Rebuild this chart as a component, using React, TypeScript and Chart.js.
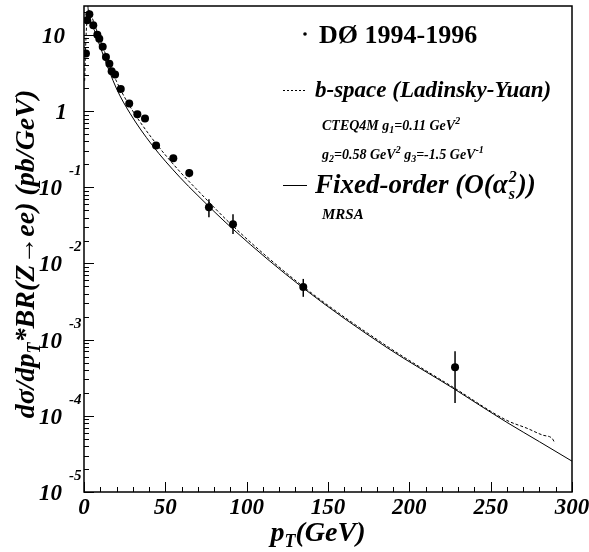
import React, { useEffect, useRef } from "react";
import { Chart, registerables } from "chart.js";
Chart.register(...registerables);

const W = 589;
const H = 552;
const FONT = '"Liberation Serif", "Times New Roman", "DejaVu Serif", serif';

// DØ 1994-1996 data: pT (GeV), value (pb/GeV), error band low/high
const dataPt = [1.2, 2.0, 3.3, 5.7, 8.2, 9.4, 11.5, 13.5, 15.6, 17.0, 19.1, 22.6, 27.8, 32.8, 37.5, 44.3, 54.9, 64.7, 76.8, 91.6, 134.8, 228.1];
const dataVal = [5.7, 15.6, 18.7, 13.4, 10.1, 8.95, 7.0, 5.15, 4.2, 3.35, 3.03, 1.95, 1.26, 0.91, 0.80, 0.354, 0.241, 0.154, 0.0548, 0.0328, 0.00493, 0.000435];
const dataErrLo = [5.3, 14.8, 17.8, 12.8, 9.6, 8.5, 6.6, 4.85, 3.95, 3.15, 2.85, 1.83, 1.18, 0.85, 0.74, 0.325, 0.218, 0.136, 0.0406, 0.0243, 0.00365, 0.000147];
const dataErrHi = [6.1, 16.4, 19.6, 14.0, 10.6, 9.4, 7.4, 5.45, 4.45, 3.55, 3.21, 2.07, 1.34, 0.97, 0.86, 0.385, 0.266, 0.174, 0.0697, 0.0444, 0.00627, 0.000703];

// Fixed-order O(alpha_s^2), MRSA
const fixedPt = [2.3, 2.5, 6.8, 11.1, 20.1, 28.3, 41.8, 59.0, 69.5, 91.6, 134.6, 186.3, 228.1, 243.4, 260.0, 280.0, 300.0];
const fixedVal = [26, 22.4, 10.9, 6.0, 1.95, 0.935, 0.36, 0.135, 0.0798, 0.0282, 0.00479, 0.000785, 0.000222, 0.000137, 0.000082, 0.0000457, 0.0000254];

// b-space (Ladinsky-Yuan), CTEQ4M
const bspacePt = [0.4, 1.2, 2.0, 3.0, 4.0, 5.0, 6.8, 11.1, 20.1, 28.3, 41.8, 59.0, 69.5, 91.6, 134.6, 186.3, 228.1, 260.0, 272.3, 282.2, 287.7, 289.5];
const bspaceVal = [2.5, 9.0, 17.0, 21.0, 20.0, 17.0, 13.1, 7.4, 2.43, 1.15, 0.44, 0.16, 0.093, 0.0309, 0.0050, 0.00082, 0.000229, 0.000087, 0.0000687, 0.0000556, 0.0000508, 0.0000437];

const xMajorTicks = [0, 50, 100, 150, 200, 250, 300];
const xTickLabels = ["0", "50", "100", "150", "200", "250", "300"];
const yDecades = [-5, -4, -3, -2, -1, 0, 1];

const X_MIN = 0;
const X_MAX = 300;
const Y_MIN = 1e-5;
const Y_MAX = 24;

type Seg = { t: string; size: number; dy?: number; style?: string };

function segWidth(ctx: CanvasRenderingContext2D, segs: Seg[]) {
  let w = 0;
  for (const s of segs) {
    ctx.font = `${s.style ?? "italic bold"} ${s.size}px ${FONT}`;
    w += ctx.measureText(s.t).width;
  }
  return w;
}

function drawSegs(ctx: CanvasRenderingContext2D, x: number, y: number, segs: Seg[]) {
  let cx = x;
  for (const s of segs) {
    ctx.font = `${s.style ?? "italic bold"} ${s.size}px ${FONT}`;
    ctx.fillText(s.t, cx, y + (s.dy ?? 0));
    cx += ctx.measureText(s.t).width;
  }
  return cx - x;
}

export default function App() {
  const ref = useRef<HTMLCanvasElement>(null);

  useEffect(() => {
    const canvas = ref.current!;
    const rootPlugin = {
      id: "rootStyle",
      beforeDatasetsDraw(chart: any) {
        const ctx: CanvasRenderingContext2D = chart.ctx;
        const xs = chart.scales.x;
        const ys = chart.scales.y;
        ctx.save();
        ctx.strokeStyle = "#000";
        ctx.lineWidth = 1.5;
        for (let i = 0; i < dataPt.length; i++) {
          const px = xs.getPixelForValue(dataPt[i]);
          ctx.beginPath();
          ctx.moveTo(px, ys.getPixelForValue(dataErrLo[i]));
          ctx.lineTo(px, ys.getPixelForValue(dataErrHi[i]));
          ctx.stroke();
        }
        ctx.restore();
      },
      afterDraw(chart: any) {
        const ctx: CanvasRenderingContext2D = chart.ctx;
        const xs = chart.scales.x;
        const ys = chart.scales.y;
        const a = chart.chartArea;
        ctx.save();
        ctx.strokeStyle = "#000";
        ctx.fillStyle = "#000";
        // frame
        ctx.lineWidth = 1.5;
        ctx.strokeRect(a.left, a.top, a.right - a.left, a.bottom - a.top);
        // x ticks
        ctx.lineWidth = 1;
        for (let v = X_MIN; v <= X_MAX; v += 10) {
          const px = Math.round(xs.getPixelForValue(v)) + 0.5;
          const len = v % 50 === 0 ? 10 : 5;
          ctx.beginPath();
          ctx.moveTo(px, a.bottom);
          ctx.lineTo(px, a.bottom - len);
          ctx.stroke();
        }
        // y ticks
        for (const d of yDecades) {
          for (let m = 1; m <= 9; m++) {
            const v = m * Math.pow(10, d);
            if (v < Y_MIN * 0.999 || v > Y_MAX) continue;
            const py = Math.round(ys.getPixelForValue(v)) + 0.5;
            const len = m === 1 ? 10 : 5;
            ctx.beginPath();
            ctx.moveTo(a.left, py);
            ctx.lineTo(a.left + len, py);
            ctx.stroke();
          }
        }
        // x tick labels
        ctx.textBaseline = "alphabetic";
        ctx.textAlign = "center";
        ctx.font = `italic bold 23px ${FONT}`;
        xMajorTicks.forEach((v, i) => {
          ctx.fillText(xTickLabels[i], xs.getPixelForValue(v), a.bottom + 22);
        });
        // y tick labels
        for (const d of yDecades) {
          const py = ys.getPixelForValue(Math.pow(10, d));
          ctx.font = `italic bold 23px ${FONT}`;
          ctx.textAlign = "right";
          if (d === 1) {
            ctx.fillText("10", a.left - 19, py + 8);
          } else if (d === 0) {
            ctx.fillText("1", a.left - 17, py + 8);
          } else {
            ctx.fillText("10", a.left - 22, py + 8);
            ctx.textAlign = "left";
            ctx.font = `italic bold 15px ${FONT}`;
            ctx.fillText(String(d), a.left - 15, py - 12);
          }
        }
        ctx.textAlign = "left";
        // x axis title
        const xt: Seg[] = [
          { t: "p", size: 28 },
          { t: "T", size: 18, dy: 6 },
          { t: "(GeV)", size: 28 },
        ];
        const xtw = segWidth(ctx, xt);
        drawSegs(ctx, 318 - xtw / 2, 541, xt);
        // y axis title
        const yt: Seg[] = [
          { t: "d\u03c3/dp", size: 28 },
          { t: "T", size: 18, dy: 6 },
          { t: "*BR(Z\u2192ee) (pb/GeV)", size: 28 },
        ];
        const ytw = segWidth(ctx, yt);
        ctx.save();
        ctx.translate(34, 254);
        ctx.rotate(-Math.PI / 2);
        drawSegs(ctx, -ytw / 2, 0, yt);
        ctx.restore();

        // legend
        ctx.beginPath();
        ctx.arc(305, 34, 1.8, 0, Math.PI * 2);
        ctx.fill();
        drawSegs(ctx, 319, 43, [{ t: "D\u00d8 1994-1996", size: 26, style: "bold" }]);

        ctx.lineWidth = 1;
        ctx.setLineDash([2, 2]);
        ctx.beginPath();
        ctx.moveTo(283, 90.5);
        ctx.lineTo(307, 90.5);
        ctx.stroke();
        ctx.setLineDash([]);
        drawSegs(ctx, 315, 97, [{ t: "b-space (Ladinsky-Yuan)", size: 23 }]);
        drawSegs(ctx, 322, 130, [
          { t: "CTEQ4M g", size: 14 },
          { t: "1", size: 10, dy: 3 },
          { t: "=0.11 GeV", size: 14 },
          { t: "2", size: 10, dy: -6 },
        ]);
        drawSegs(ctx, 322, 159, [
          { t: "g", size: 14 },
          { t: "2", size: 10, dy: 3 },
          { t: "=0.58 GeV", size: 14 },
          { t: "2", size: 10, dy: -6 },
          { t: " g", size: 14 },
          { t: "3", size: 10, dy: 3 },
          { t: "=-1.5 GeV", size: 14 },
          { t: "-1", size: 10, dy: -6 },
        ]);

        ctx.beginPath();
        ctx.moveTo(283, 185.5);
        ctx.lineTo(307, 185.5);
        ctx.stroke();
        const w1 = drawSegs(ctx, 315, 193, [{ t: "Fixed-order (O(\u03b1", size: 27 }]);
        ctx.font = `italic bold 16px ${FONT}`;
        ctx.fillText("2", 315 + w1 + 1, 182);
        ctx.fillText("s", 315 + w1 + 1, 199);
        drawSegs(ctx, 315 + w1 + 10, 193, [{ t: "))", size: 27 }]);
        drawSegs(ctx, 322, 219, [{ t: "MRSA", size: 15 }]);
        ctx.restore();
      },
    };

    const chart = new Chart(canvas, {
      type: "scatter",
      data: {
        datasets: [
          {
            label: "b-space",
            data: bspacePt.map((x, i) => ({ x, y: bspaceVal[i] })),
            showLine: true,
            borderColor: "#000",
            borderWidth: 1,
            borderDash: [3, 2],
            pointRadius: 0,
            cubicInterpolationMode: "monotone",
          },
          {
            label: "Fixed-order",
            data: fixedPt.map((x, i) => ({ x, y: fixedVal[i] })),
            showLine: true,
            borderColor: "#000",
            borderWidth: 1,
            pointRadius: 0,
            cubicInterpolationMode: "monotone",
          },
          {
            label: "DØ 1994-1996",
            data: dataPt.map((x, i) => ({ x, y: dataVal[i] })),
            showLine: false,
            pointRadius: 4,
            pointBackgroundColor: "#000",
            pointBorderColor: "#000",
            pointBorderWidth: 0,
          },
        ],
      },
      options: {
        responsive: false,
        animation: false,
        devicePixelRatio: 1,
        events: [],
        layout: { padding: { left: 84, right: 17, top: 6, bottom: 60 } },
        plugins: { legend: { display: false }, tooltip: { enabled: false } },
        scales: {
          x: { type: "linear", min: X_MIN, max: X_MAX, display: false },
          y: { type: "logarithmic", min: Y_MIN, max: Y_MAX, display: false },
        },
      },
      plugins: [rootPlugin],
    } as any);
    return () => chart.destroy();
  }, []);

  return (
    <div style={{ position: "absolute", left: 0, top: 0, width: W, height: H, background: "#fff" }}>
      <canvas ref={ref} width={W} height={H} style={{ display: "block" }} />
    </div>
  );
}
